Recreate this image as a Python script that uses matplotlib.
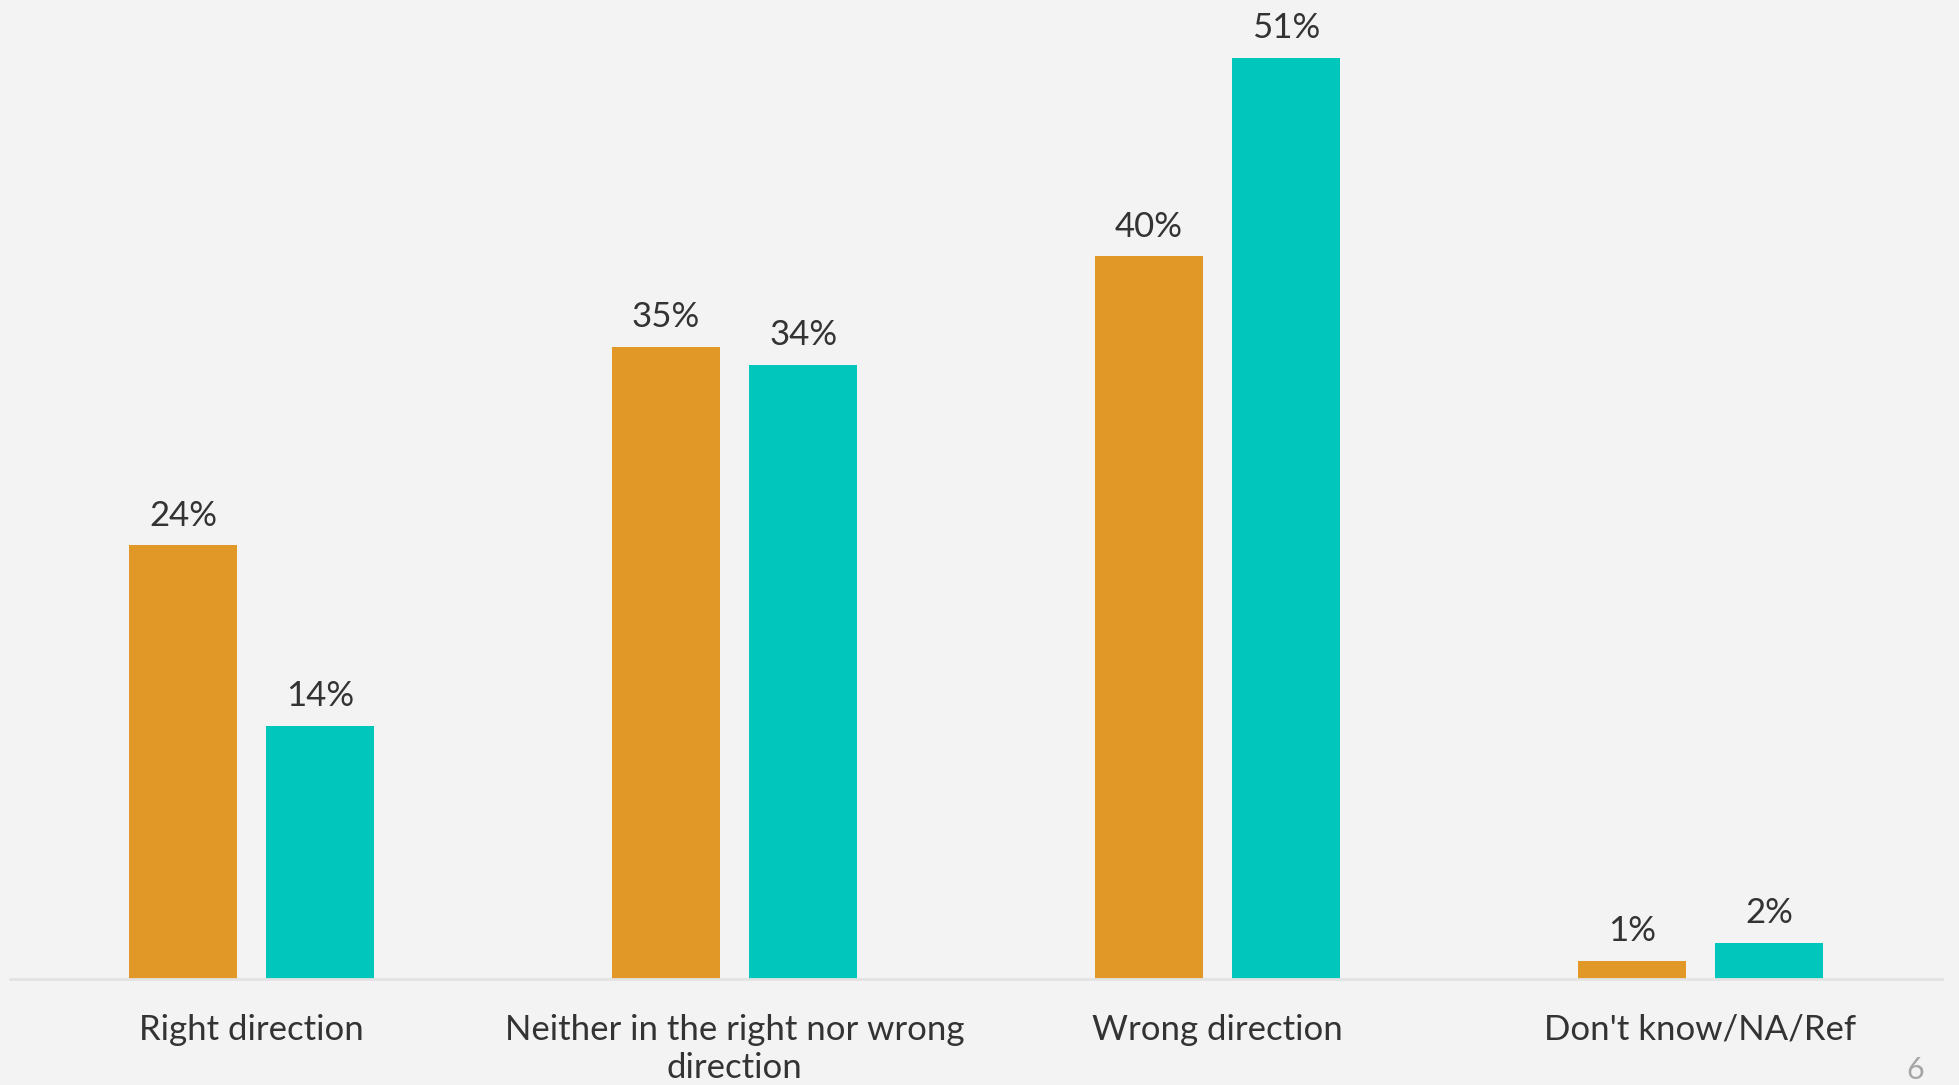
import matplotlib
matplotlib.use("Agg")
import matplotlib.pyplot as plt
import numpy as np

categories = ["Right direction", "Neither in the right nor wrong\ndirection",
              "Wrong direction", "Don't know/NA/Ref"]
series_a = [24, 35, 40, 1]   # orange
series_b = [14, 34, 51, 2]   # teal

orange = "#E29826"
teal = "#00C6BC"
bg = "#F3F3F3"
txt = "#333333"

plt.rcParams['font.family'] = ['Lato', 'DejaVu Sans']

fig = plt.figure(figsize=(19.59, 10.85), dpi=100, facecolor=bg)
ax = fig.add_axes([10 / 1959, 106 / 1085, 1932 / 1959, 979 / 1085])
ax.set_facecolor(bg)

x = np.arange(len(categories))
w = 0.225
off = 0.142
bars_a = ax.bar(x - off, series_a, w, color=orange)
bars_b = ax.bar(x + off, series_b, w, color=teal)

for bars, vals in ((bars_a, series_a), (bars_b, series_b)):
    for b, v in zip(bars, vals):
        ax.annotate(f"{v}%", (b.get_x() + b.get_width() / 2, v),
                    xytext=(0, 10), textcoords="offset points",
                    ha="center", va="bottom", fontsize=25, color=txt)

ax.set_xlim(-0.5, 3.5)
ax.set_ylim(0, 54.2)
ax.set_xticks(x)
ax.set_xticklabels(categories, fontsize=25, color=txt, linespacing=1.25)
ax.tick_params(axis="x", length=0, pad=25)
ax.set_yticks([])
for s in ["top", "right", "left"]:
    ax.spines[s].set_visible(False)
ax.spines["bottom"].set_color("#E3E3E3")
ax.spines["bottom"].set_linewidth(2)

fig.text(1915 / 1959, 1 - 1070 / 1085, "6", fontsize=22, color="#A6A6A6",
         ha="center", va="center")

fig.savefig("out.png", dpi=100, facecolor=bg)
